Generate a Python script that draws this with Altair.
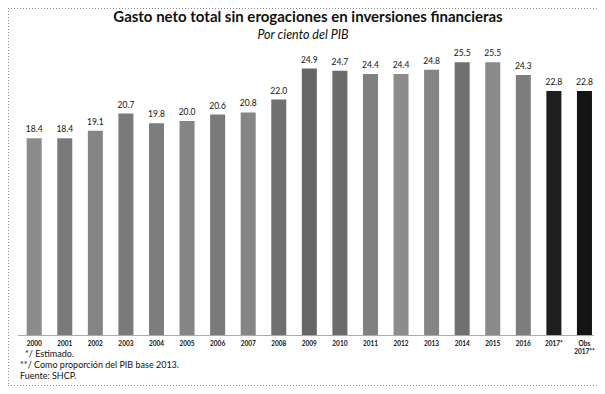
import altair as alt
import pandas as pd

years = ["2000", "2001", "2002", "2003", "2004", "2005", "2006", "2007", "2008",
         "2009", "2010", "2011", "2012", "2013", "2014", "2015", "2016",
         "2017*", "Obs 2017**"]
values = [18.4, 18.4, 19.1, 20.7, 19.8, 20.0, 20.6, 20.8, 22.0,
          24.9, 24.7, 24.4, 24.4, 24.8, 25.5, 25.5, 24.3, 22.8, 22.8]
labels = ["18.4", "18.4", "19.1", "20.7", "19.8", "20.0", "20.6", "20.8", "22.0",
          "24.9", "24.7", "24.4", "24.4", "24.8", "25.5", "25.5", "24.3", "22.8", "22.8"]
notes = ["*/ Estimado.", "**/ Como proporción del PIB base 2013.", "Fuente: SHCP."]
title_text = "Gasto neto total sin erogaciones en inversiones financieras"
subtitle_text = "Por ciento del PIB"

bar_colors = ["#8c8c8c", "#7a7a7a", "#858585", "#7a7a7a", "#7d7d7d", "#858585",
              "#7a7a7a", "#858585", "#707070", "#666666", "#6b6b6b", "#808080",
              "#8c8c8c", "#858585", "#707070", "#8a8a8a", "#7d7d7d", "#1e1e1e", "#141414"]

df = pd.DataFrame({"year": years, "value": values, "label": labels})

FONT = "Lato"

x = alt.X("year:N", sort=years, title=None,
          scale=alt.Scale(paddingInner=0.509, paddingOuter=0.1755, align=0.81),
          axis=alt.Axis(labelAngle=0, ticks=False, domain=True, domainColor="#555555",
                        domainDash=[1, 1], domainWidth=1, labelFont=FONT,
                        labelFontSize=6.5, labelFontWeight="bold", labelColor="#111111",
                        labelPadding=5, labelLineHeight=8,
                        labelExpr="split(datum.label, ' ')"))
y = alt.Y("value:Q", scale=alt.Scale(domain=[0, 26.17]), axis=None)

base = alt.Chart(df)
bars = base.mark_bar().encode(
    x=x, y=y,
    color=alt.Color("year:N", sort=years,
                    scale=alt.Scale(domain=years, range=bar_colors), legend=None),
)
text = base.mark_text(baseline="bottom", dy=-4, font=FONT, fontSize=8.5,
                      color="#111111").encode(x=x, y=y, text="label:N")

layers = [bars, text]

# title and subtitle
layers.append(alt.Chart(pd.DataFrame({"t": [title_text]})).mark_text(
    align="center", baseline="alphabetic", font=FONT, fontSize=15,
    fontWeight="bold", color="#111111"
).encode(x=alt.value(290), y=alt.value(-33), text="t:N"))
layers.append(alt.Chart(pd.DataFrame({"t": [subtitle_text]})).mark_text(
    align="center", baseline="alphabetic", font=FONT, fontSize=12.5,
    fontStyle="italic", color="#111111"
).encode(x=alt.value(285), y=alt.value(-16), text="t:N"))

note_x = [7, 2, 2]
for i, n in enumerate(notes):
    layers.append(
        alt.Chart(pd.DataFrame({"t": [n]})).mark_text(
            align="left", baseline="middle", font=FONT, fontSize=9, color="#111111"
        ).encode(x=alt.value(note_x[i]), y=alt.value(299 + 11 * i), text="t:N")
    )

border_style = dict(color="#888888", strokeDash=[1, 2], strokeWidth=1)
layers.append(alt.Chart(pd.DataFrame({"a": [0]})).mark_rule(**border_style).encode(
    x=alt.value(-10), x2=alt.value(579), y=alt.value(-46.5)))
layers.append(alt.Chart(pd.DataFrame({"a": [0]})).mark_rule(**border_style).encode(
    x=alt.value(-10), x2=alt.value(579), y=alt.value(330.5)))
layers.append(alt.Chart(pd.DataFrame({"a": [0]})).mark_rule(**border_style).encode(
    x=alt.value(-9.5), y=alt.value(-47), y2=alt.value(331)))

chart = alt.layer(*layers).properties(
    width=576, height=280,
    autosize=alt.AutoSizeParams(type="none"),
    padding={"left": 10, "top": 47, "right": 3, "bottom": 51},
).configure_view(stroke=None)

chart.save("out.html", embed_options={"renderer": "svg", "actions": False})
